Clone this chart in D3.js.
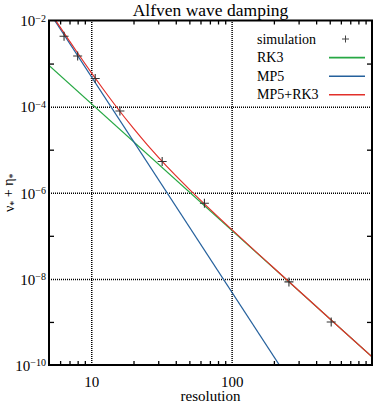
<!DOCTYPE html>
<html>
<head>
<meta charset="utf-8">
<script src="https://cdn.jsdelivr.net/npm/d3@7"></script>
<style>
  body { margin: 0; background: #fff; }
  svg { display: block; }
  svg text { font-family: "Liberation Serif", "DejaVu Serif", serif; }
</style>
</head>
<body>
<div class="chart"></div>
<script>
// simulation points (resolution, nu+eta)
var simRes = [6.4, 8, 10.67, 16, 32, 64, 256, 512];
var simVal = [4.3e-3, 1.5e-3, 4.5e-4, 7.9e-5, 5.3e-6, 5.7e-7, 8.5e-9, 1.0e-9];

// theory lines
var rk3Res = [5, 1000];
var rk3Val = [9.1e-4, 1.56e-10];
var mp5Res = [5, 300];
var mp5Val = [1.6e-2, 2.06e-11];
var sumRes = [5, 6, 7, 8, 10, 12, 15, 20, 25, 30, 40, 50, 70, 100, 150, 200, 300, 500, 1000];
var sumVal = [1.69e-2, 6.99e-3, 3.33e-3, 1.76e-3, 6.19e-4, 2.71e-4, 1.02e-4, 3.11e-5, 1.31e-5,
              6.75e-6, 2.49e-6, 1.20e-6, 4.17e-7, 1.41e-7, 4.19e-8, 1.79e-8, 5.39e-9, 1.19e-9, 1.56e-10];

var xMinor = [6, 7, 8, 9, 20, 30, 40, 50, 60, 70, 80, 90, 200, 300, 400, 500, 600, 700, 800, 900];
var xGrid = [10, 100];
var xLabels = [10, 100];
var yLabels = [1e-2, 1e-4, 1e-6, 1e-8, 1e-10];
var yMinor = [1e-3, 1e-5, 1e-7, 1e-9];
var yGrid = [1e-4, 1e-6, 1e-8];

var legendNames = ['RK3', 'MP5', 'MP5+RK3'];
var colors = {'RK3': '#27a844', 'MP5': '#24609c', 'MP5+RK3': '#e2302a'};

var W = 374, H = 404;
var m = {left: 49, right: 2, top: 20.5, bottom: 39};
var w = W - m.left - m.right, h = H - m.top - m.bottom;

var svg = d3.select('.chart').append('svg').attr('width', W).attr('height', H);

var x = d3.scaleLog().domain([5, 1000]).range([0, w]);
var y = d3.scaleLog().domain([1e-10, 1e-2]).range([h, 0]);

var g = svg.append('g').attr('transform', 'translate(' + m.left + ',' + m.top + ')');

svg.append('defs').append('clipPath').attr('id', 'clip')
	.append('rect').attr('width', w).attr('height', h);

// dotted grid
var grid = g.append('g');
grid.append('g').attr('transform', 'translate(0,' + h + ')')
	.call(d3.axisBottom(x).tickValues(xGrid).tickSize(-h).tickFormat(''))
	.call(function(s) { s.select('.domain').remove(); });
grid.append('g')
	.call(d3.axisLeft(y).tickValues(yGrid).tickSize(-w).tickFormat(''))
	.call(function(s) { s.select('.domain').remove(); });
grid.selectAll('.tick line').attr('stroke', '#000').attr('stroke-width', 1.5)
	.attr('stroke-dasharray', '1,1');

// curves
var line = d3.line().x(function(d) { return x(d[0]); }).y(function(d) { return y(d[1]); });
var curves = g.append('g').attr('clip-path', 'url(#clip)');
var series = [
	{name: 'RK3', res: rk3Res, val: rk3Val},
	{name: 'MP5', res: mp5Res, val: mp5Val},
	{name: 'MP5+RK3', res: sumRes, val: sumVal}
];
series.forEach(function(s) {
	var pts = d3.zip(s.res, s.val);
	curves.append('path')
		.attr('fill', 'none')
		.attr('stroke', colors[s.name])
		.attr('stroke-width', 1.2)
		.attr('d', line.curve(s.name == 'MP5+RK3' ? d3.curveMonotoneX : d3.curveLinear)(pts));
});

// simulation markers
curves.selectAll('.sim').data(d3.zip(simRes, simVal))
	.enter().append('path')
	.attr('class', 'sim')
	.attr('d', 'M-4.5,0H4.5M0,-4.5V4.5')
	.attr('transform', function(d) { return 'translate(' + x(d[0]) + ',' + y(d[1]) + ')'; })
	.attr('stroke', '#333').attr('stroke-width', 1.1).attr('fill', 'none');

// inward ticks, all four sides
function tickStyle(s) {
	s.select('.domain').remove();
	s.selectAll('.tick line').attr('stroke', '#000').attr('stroke-width', 1.3);
}
g.append('g').attr('transform', 'translate(0,' + h + ')')
	.call(d3.axisBottom(x).tickValues(xMinor).tickSize(-4).tickFormat('')).call(tickStyle);
g.append('g')
	.call(d3.axisTop(x).tickValues(xMinor).tickSize(-4).tickFormat('')).call(tickStyle);
g.append('g')
	.call(d3.axisLeft(y).tickValues(yMinor).tickSize(-5).tickFormat('')).call(tickStyle);
g.append('g').attr('transform', 'translate(' + w + ',0)')
	.call(d3.axisRight(y).tickValues(yMinor).tickSize(-5).tickFormat('')).call(tickStyle);

// frame
g.append('rect').attr('width', w).attr('height', h)
	.attr('fill', 'none').attr('stroke', '#000').attr('stroke-width', 2);

// x labels
var xl = g.append('g').attr('transform', 'translate(0,' + h + ')')
	.call(d3.axisBottom(x).tickValues(xLabels).tickSize(0).tickPadding(11).tickFormat(d3.format('d')));
xl.select('.domain').remove();
xl.attr('font-family', null).attr('font-size', 15);
xl.selectAll('text').attr('fill', '#000');

// y labels with superscripts
var yl = g.append('g')
	.call(d3.axisLeft(y).tickValues(yLabels).tickSize(0).tickFormat(''));
yl.select('.domain').remove();
yl.attr('font-family', null);
yl.selectAll('.tick').append('text')
	.attr('x', -3).attr('dy', '0.35em')
	.attr('text-anchor', 'end')
	.attr('font-size', 15).attr('fill', '#000')
	.each(function(d) {
		var t = d3.select(this);
		t.append('tspan').text('10');
		t.append('tspan').attr('dy', '-0.45em').attr('font-size', 10)
			.text('\u2212' + Math.round(-Math.log10(d)));
	});

// title and axis titles
svg.append('text').attr('x', m.left + w / 2).attr('y', 16)
	.attr('text-anchor', 'middle').attr('font-size', 17.5).text('Alfven wave damping');
svg.append('text').attr('x', m.left + w / 2).attr('y', 401)
	.attr('text-anchor', 'middle').attr('font-size', 15).text('resolution');
var yt = svg.append('text')
	.attr('transform', 'translate(14,' + (m.top + h / 2) + ') rotate(-90)')
	.attr('text-anchor', 'middle').attr('font-size', 14);
yt.append('tspan').text('\u03bd');
yt.append('tspan').attr('font-size', 10).attr('dy', '0.3em').text('*');
yt.append('tspan').attr('dy', '-0.3em').text(' + \u03b7');
yt.append('tspan').attr('font-size', 10).attr('dy', '0.3em').text('*');

// legend
var leg = svg.append('g');
var rows = ['simulation'].concat(legendNames);
rows.forEach(function(name, i) {
	var cy = 39 + i * 18.6;
	leg.append('text').attr('x', 257).attr('y', cy + 4.5).attr('font-size', 14).text(name);
	if (i == 0) {
		leg.append('path').attr('d', 'M-3.5,0H3.5M0,-3.5V3.5')
			.attr('transform', 'translate(345.5,' + cy + ')')
			.attr('stroke', '#444').attr('stroke-width', 1);
	} else {
		leg.append('line').attr('x1', 329).attr('x2', 365).attr('y1', cy).attr('y2', cy)
			.attr('stroke', colors[name]).attr('stroke-width', 1.6);
	}
});
</script>
</body>
</html>
